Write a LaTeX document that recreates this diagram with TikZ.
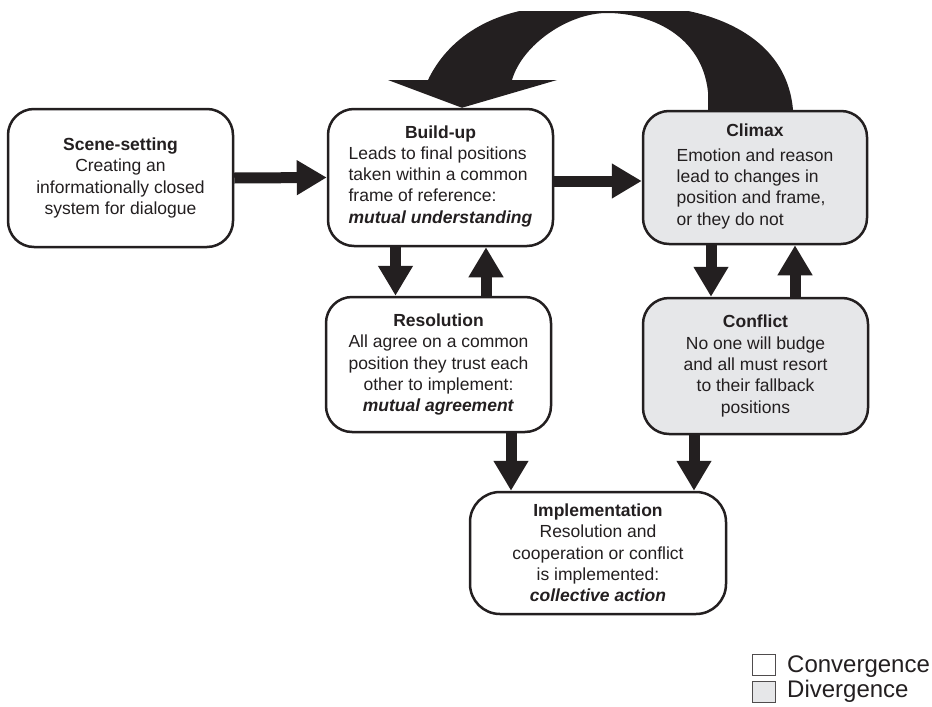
\documentclass[tikz,border=0pt]{standalone}
\usepackage{fontspec}
\setmainfont{Liberation Sans}
\usetikzlibrary{arrows.meta,calc}
\definecolor{ink}{HTML}{231F20}
\definecolor{divfill}{HTML}{E6E7E9}
\tikzset{
  stage/.style={draw=ink, line width=2.5pt, rounded corners=26pt, align=center,
    font=\fontsize{17.5}{21.3}\selectfont, inner sep=0pt, text=ink},
  conv/.style={stage, fill=white},
  diverge/.style={stage, fill=divfill},
  flow/.style={draw=ink, line width=11pt, -{Triangle[width=33pt,length=30pt]}},
  keybox/.style={draw=ink!80, line width=1pt, minimum width=23pt, minimum height=21pt, inner sep=0pt},
  keytext/.style={anchor=base west, font=\fontsize{24}{28}\selectfont, inner sep=0pt, text=ink},
}
\begin{document}
\begin{tikzpicture}[x=1pt,y=-1pt]
\useasboundingbox (0,0) rectangle (932,707);

% stages
\node[conv, minimum width=225pt, minimum height=138pt] (scene) at (120.5,178)
  {\textbf{Scene-setting}\\Creating an\\informationally closed\\system for dialogue};
\node[conv, minimum width=225pt, minimum height=137pt] (buildup) at (440.5,177.5)
  {\textbf{Build-up}\\\begin{tabular}[t]{@{}l@{}}Leads to final positions\\taken within a common\\frame of reference:\\\textbf{\textit{mutual understanding}}\end{tabular}};
\node[diverge, minimum width=224pt, minimum height=133pt] (climax) at (755,177.5)
  {\textbf{Climax}\\[4pt]\begin{tabular}[t]{@{}l@{}}Emotion and reason\\lead to changes in\\position and frame,\\or they do not\end{tabular}};
\node[conv, minimum width=225pt, minimum height=135pt] (resolution) at (438.5,364.5)
  {\textbf{Resolution}\\All agree on a common\\position they trust each\\other to implement:\\\textbf{\textit{mutual agreement}}};
\node[diverge, minimum width=225pt, minimum height=136pt] (conflict) at (755.5,366)
  {\textbf{Conflict}\\No one will budge\\and all must resort\\to their fallback\\positions};
\node[conv, minimum width=256pt, minimum height=122pt, rounded corners=30pt] (impl) at (598,553)
  {\textbf{Implementation}\\Resolution and\\cooperation or conflict\\is implemented:\\\textbf{\textit{collective action}}};

% straight block arrows
\draw[flow] (scene.east) -- (buildup.west);
\draw[flow] ([yshift=-3.5]buildup.east) -- ([yshift=-3.5]climax.west);
\draw[flow] ([xshift=-45]buildup.south) -- ([xshift=-45]buildup.south |- resolution.north);
\draw[flow] ([xshift=47.5]resolution.north) -- ([xshift=47.5]resolution.north |- buildup.south);
\draw[flow] ([xshift=-44]climax.south) -- ([xshift=-44]climax.south |- conflict.north);
\draw[flow] ([xshift=39.5]conflict.north) -- ([xshift=39.5]conflict.north |- climax.south);
\draw[flow] ([xshift=72.5]resolution.south) -- ([xshift=72.5]resolution.south |- impl.north);
\draw[flow] ([xshift=-61.5]conflict.south) -- ([xshift=-61.5]conflict.south |- impl.north);

% wide curved arrow from climax back to build-up
\begin{scope}
  \clip (0,11) rectangle (932,707);
  \fill[ink] ([xshift=38]climax.north) -- ([xshift=-47]climax.north) -- (708,92)
    .. controls (702,35) and (650,13) .. (607,13)
    .. controls (568,13) and (522,45) .. (512,80)
    -- (557,80) -- ([xshift=21.5]buildup.north) -- (388,80) -- (428,80)
    .. controls (447,40) and (490,8) .. (560,6)
    -- (640,6)
    .. controls (700,6) and (786,30) .. ([xshift=38]climax.north) -- cycle;
\end{scope}

% key
\node[keybox, fill=white] (convkey) at (764,664.5) {};
\node[keybox, fill=divfill] (divkey) at (764,691.5) {};
\node[keytext] (convlabel) at (787,672) {Convergence};
\node[keytext] (divlabel) at (787,697) {Divergence};
\end{tikzpicture}
\end{document}
